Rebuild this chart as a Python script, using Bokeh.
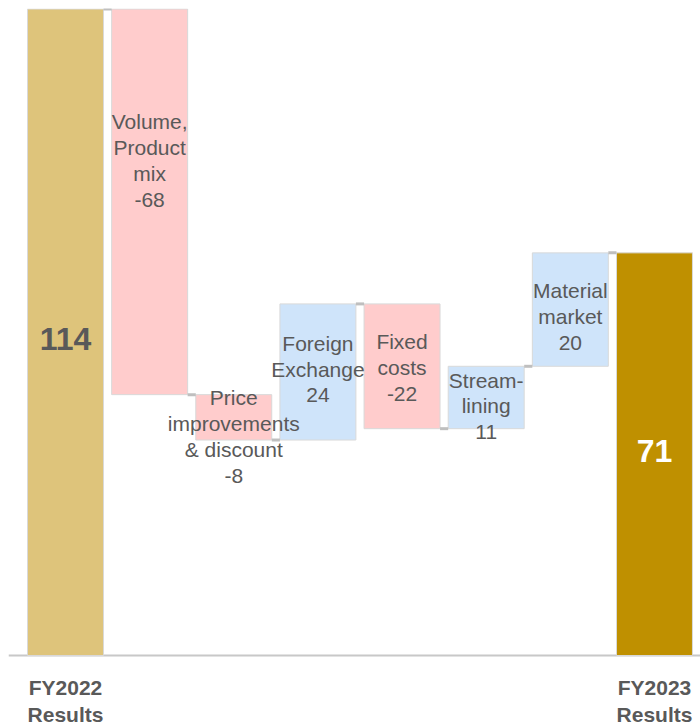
from bokeh.plotting import figure
from bokeh.models import Range1d, ColumnDataSource, Span
from bokeh.core.properties import value
from bokeh.embed import file_html
from bokeh.resources import INLINE

# ---- data ----
categories = ["FY2022\nResults", "Volume,\nProduct\nmix", "Price\nimprovements\n& discount",
              "Foreign\nExchange", "Fixed\ncosts", "Stream-\nlining", "Material\nmarket",
              "FY2023\nResults"]
values = [114, -68, -8, 24, -22, 11, 20, 71]
is_total = [True, False, False, False, False, False, False, True]

# label vertical offsets (style), relative to bar midpoint, data units
label_offset = [-1.25, 7.3, -3.4, 0.5, -0.2, -1.5, -1.2, 0.5]

# ---- derived geometry ----
n = len(values)
xs = list(range(n))
bottoms, tops, colors = [], [], []
level = 0
for i, v in enumerate(values):
    if is_total[i]:
        b, t = 0, v
        level = v
        colors.append("#DEC47B" if i == 0 else "#BF9000")
    else:
        b, t = sorted([level, level + v])
        level = level + v
        colors.append("#FFCCCC" if v < 0 else "#CFE4FA")
    bottoms.append(b)
    tops.append(t)

bar_w = 0.903
p = figure(width=700, height=725,
           x_range=Range1d(-0.6774, 7.547), y_range=Range1d(-12.34, 114.09),
           output_backend="svg", toolbar_location=None,
           min_border_left=8, min_border_top=8, min_border_right=0, min_border_bottom=0)
p.axis.visible = False
p.grid.visible = False
p.outline_line_color = None
p.background_fill_color = "white"
p.border_fill_color = "white"

p.add_layout(Span(location=0, dimension="width", line_color="#C8C8C8",
                  line_width=2, level="underlay"))

src = ColumnDataSource(dict(x=xs, bottom=bottoms, top=tops, color=colors))
p.vbar(x="x", bottom="bottom", top="top", width=bar_w, fill_color="color",
       line_color="#D9D9D9", line_width=1, source=src)

# connectors
cx0, cx1, cy = [], [], []
level = 0
for i, v in enumerate(values[:-1]):
    level = v if is_total[i] else level + v
    cx0.append(i + bar_w / 2)
    cx1.append(i + 1 - bar_w / 2)
    cy.append(level)
p.segment(x0=cx0, y0=cy, x1=cx1, y1=cy, line_color="#BFBFBF", line_width=3)

# step labels
lx, ly, lt = [], [], []
for i, v in enumerate(values):
    if is_total[i]:
        continue
    lx.append(i)
    ly.append((bottoms[i] + tops[i]) / 2 + label_offset[i])
    lt.append(categories[i] + "\n" + str(v))
p.text(x=lx, y=ly, text=lt, text_align="center", text_baseline="middle",
       text_font=value("Liberation Sans"), text_font_size="21px",
       text_color="#595959", text_line_height=1.12)

# total values inside bars
p.text(x=[0], y=[values[0] / 2 + label_offset[0]], text=[str(values[0])],
       text_align="center", text_baseline="middle",
       text_font=value("Liberation Sans"), text_font_size="32px",
       text_font_style="bold", text_color="#595959")
p.text(x=[n - 1], y=[values[-1] / 2 + label_offset[-1]], text=[str(values[-1])],
       text_align="center", text_baseline="middle",
       text_font=value("Liberation Sans"), text_font_size="32px",
       text_font_style="bold", text_color="white")

# total category labels below baseline
p.text(x=[0, n - 1], y=[-8.0, -8.0], text=[categories[0], categories[-1]],
       text_align="center", text_baseline="middle",
       text_font=value("Liberation Sans"), text_font_size="21px",
       text_font_style="bold", text_color="#595959", text_line_height=1.17)

open("out.html", "w").write(file_html(p, INLINE))
